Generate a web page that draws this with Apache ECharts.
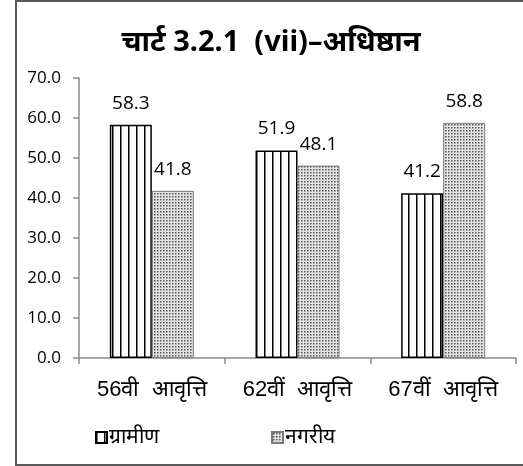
<!DOCTYPE html>
<html>
<head>
<meta charset="utf-8">
<script src="https://cdn.jsdelivr.net/npm/echarts@6/dist/echarts.min.js"></script>
<style>
  html, body { margin: 0; padding: 0; background: #fff; }
  #main { width: 523px; height: 466px; }
</style>
</head>
<body>
<div id="main"></div>
<script>
// data
var rounds = ['56वी  आवृत्ति', '62वीं  आवृत्ति', '67वीं  आवृत्ति'];
var seriesNames = ['ग्रामीण', 'नगरीय'];
var rural = [58.3, 51.9, 41.2];
var urban = [41.8, 48.1, 58.8];
var yTicks = [0, 10, 20, 30, 40, 50, 60, 70];

// striped fill for rural bars
function stripePattern() {
  var c = document.createElement('canvas');
  c.width = 8; c.height = 8;
  var ctx = c.getContext('2d');
  ctx.fillStyle = '#ffffff';
  ctx.fillRect(0, 0, 8, 8);
  ctx.fillStyle = '#000000';
  ctx.fillRect(0, 0, 1.5, 8);
  return c;
}
// dotted fill for urban bars
function dotPattern() {
  var c = document.createElement('canvas');
  c.width = 3; c.height = 3;
  var ctx = c.getContext('2d');
  ctx.fillStyle = '#e4e4e4';
  ctx.fillRect(0, 0, 3, 3);
  ctx.fillStyle = '#555555';
  ctx.fillRect(1, 1, 1.5, 1.5);
  return c;
}

var chart = echarts.init(document.getElementById('main'));
var numFont = '"Open Sans", "Noto Sans", sans-serif';

var option = {
  animation: false,
  title: {
    text: 'चार्ट 3.2.1  (vii)–अधिष्ठान',
    left: 266,
    textAlign: 'center',
    top: 23,
    textStyle: { fontSize: 29, fontWeight: 'bold', color: '#000', fontFamily: '"Noto Sans", sans-serif' }
  },
  graphic: [{
    type: 'rect',
    shape: { x: 16, y: 1, width: 530, height: 464 },
    style: { fill: 'none', stroke: '#595959', lineWidth: 2 },
    silent: true
  }],
  legend: {
    data: seriesNames,
    top: 422,
    left: 90,
    itemGap: 112,
    itemWidth: 11,
    itemHeight: 11,
    icon: 'rect',
    textStyle: { fontSize: 21, color: '#000', padding: [0, 0, 0, -3] }
  },
  grid: { left: 79, right: 7, top: 78, bottom: 108 },
  xAxis: {
    type: 'category',
    data: rounds,
    axisLine: { lineStyle: { color: '#8c8c8c', width: 1.5 } },
    axisTick: { show: true, length: 6, lineStyle: { color: '#8c8c8c', width: 1.5 } },
    axisLabel: { fontSize: 22, color: '#000', margin: 21 }
  },
  yAxis: {
    type: 'value',
    min: yTicks[0],
    max: yTicks[yTicks.length - 1],
    interval: 10,
    splitLine: { show: false },
    axisLine: { show: true, lineStyle: { color: '#8c8c8c', width: 1.5 } },
    axisTick: { show: true, length: 6, lineStyle: { color: '#8c8c8c', width: 1.5 } },
    axisLabel: {
      fontSize: 17, color: '#000', margin: 18, fontFamily: numFont,
      formatter: function (v) { return v.toFixed(1); }
    }
  },
  series: [{
    name: seriesNames[0],
    type: 'bar',
    data: rural,
    barWidth: 42,
    barGap: '0%',
    itemStyle: {
      color: { image: stripePattern(), repeat: 'repeat' },
      borderColor: '#000',
      borderWidth: 1.5
    },
    label: {
      show: true, position: 'top', distance: 12,
      fontSize: 19, color: '#000', fontFamily: numFont,
      formatter: function (p) { return p.value.toFixed(1); }
    }
  }, {
    name: seriesNames[1],
    type: 'bar',
    data: urban,
    barWidth: 42,
    itemStyle: {
      color: { image: dotPattern(), repeat: 'repeat' },
      borderColor: '#7a7a7a',
      borderWidth: 1
    },
    label: {
      show: true, position: 'top', distance: 12,
      fontSize: 19, color: '#000', fontFamily: numFont,
      formatter: function (p) { return p.value.toFixed(1); }
    }
  }]
};

chart.setOption(option);
</script>
</body>
</html>
